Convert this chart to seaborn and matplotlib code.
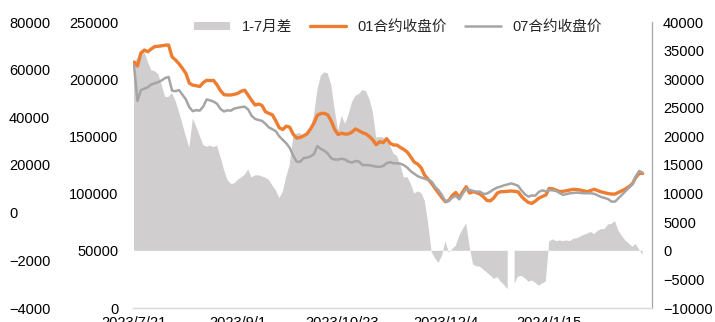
import numpy as np
import pandas as pd
import matplotlib
matplotlib.use("Agg")
import matplotlib.pyplot as plt
import seaborn as sns
from matplotlib.patches import Patch
from matplotlib.lines import Line2D

# ---------------- data ----------------
tick_days = [0, 30, 60, 90, 120]
tick_labels = ["2023/7/21", "2023/9/1", "2023/10/23", "2023/12/4", "2024/1/15"]

price_01 = [
    215000, 211500, 223000, 225500, 224000, 226500, 228500, 228800, 229200, 229700,
    229900, 219500, 216800, 213500, 209500, 205000, 196500, 194800, 194300, 193600,
    197000, 199000, 198800, 198900, 195000, 190000, 186500, 186200, 186200, 186800,
    187600, 189500, 190400, 186000, 181500, 177400, 178300, 177000, 171500, 170200,
    168800, 163500, 157500, 156000, 159000, 158000, 152000, 148600, 149000, 150500,
    152200, 156500, 161500, 168500, 170000, 170200, 168800, 163500, 156000, 151600,
    152800, 152000, 152200, 153800, 156500, 155000, 153300, 152200, 150000, 147000,
    142700, 145400, 144500, 148000, 144000, 142500, 142400, 140300, 138500, 136200,
    132000, 127500, 125800, 122500, 116000, 112500, 109000, 104600, 100500, 96500,
    92900, 94000, 98500, 101000, 96500, 101500, 106000, 100500, 101700, 100800,
    99500, 97200, 94000, 93700, 96300, 100500, 101700, 101700, 102000, 102300,
    102000, 101500, 97500, 94500, 92200, 91500, 93500, 96000, 97500, 98700,
    104500, 104200, 103000, 101800, 102000, 102500, 103200, 103800, 103500, 103100,
    102400, 101700, 102800, 103800, 102600, 101500, 100800, 100000, 99600, 99600,
    101000, 102500, 104000, 106000, 108500, 114000, 117700, 117600,
]

price_07 = [
    212400, 181000, 190500, 191800, 193000, 195400, 196400, 197400, 199000, 201000,
    202000, 190000, 189500, 190500, 186500, 182300, 175500, 172000, 173000, 172500,
    176000, 182300, 181500, 180400, 178500, 174000, 171800, 172800, 172500, 174400,
    175000, 175600, 176000, 173500, 168000, 165300, 164300, 163600, 161000, 157800,
    156300, 154500, 150000, 147000, 144000, 140000, 133300, 128000, 127800, 131000,
    131500, 132500, 134500, 141600, 139000, 137500, 135000, 130800, 129800, 129800,
    130500, 129800, 127900, 127200, 128500, 128000, 125000, 125000, 124800, 124200,
    123500, 123400, 124100, 126500, 127500, 126500, 126500, 126200, 124800, 122700,
    119500, 117300, 115200, 114000, 113000, 112000, 110500, 106000, 103000, 98500,
    93000, 94000, 96500, 98000, 95000, 100000, 104300, 103200, 102300, 101700,
    101700, 99700, 100000, 101800, 103800, 105300, 106200, 107300, 108000, 108900,
    108000, 106800, 102700, 99400, 97300, 98400, 98200, 101500, 102800, 102000,
    103100, 102800, 102300, 100500, 98900, 99600, 100300, 100600, 100900, 100600,
    100300, 100300, 100300, 99800, 98500, 97000, 96200, 95200, 93000, 93000,
    95900, 99000, 102000, 105000, 108000, 115000, 119800, 118300,
]

spread_1_7 = [
    32900, 33700, 34800, 34800, 33000, 31600, 31400, 30900, 29000, 26900,
    26900, 27600, 26200, 24300, 22200, 20000, 18000, 23100, 21700, 20100,
    18500, 18200, 18400, 18100, 18400, 16400, 14200, 12400, 11700, 11800,
    12400, 12800, 13300, 14200, 12800, 13200, 13200, 13000, 12800, 12400,
    11400, 10600, 9200, 10300, 12900, 15000, 19800, 20500, 20600, 19900,
    20600, 21500, 23600, 28100, 30600, 31200, 31000, 29000, 24600, 21000,
    23600, 22200, 23800, 26000, 27100, 27400, 28100, 27900, 26600, 24300,
    19800, 19900, 19800, 19000, 18400, 17000, 16600, 15000, 12800, 12900,
    11700, 10000, 10400, 10100, 8800, 4900, -200, -1300, -2100, -900,
    1700, -300, 300, 900, 2600, 3800, 4800, 700, -2400, -2700,
    -2800, -3300, -3800, -4300, -4900, -4600, -5400, -6000, -6700, np.nan,
    -5700, -4500, -4400, -4800, -5400, -5200, -5600, -6100, -5700, -5400,
    1600, 2000, 1700, 1800, 1700, 1800, 1700, 2100, 2200, 2500,
    2800, 3000, 3300, 2900, 3500, 3800, 3800, 4600, 4700, 5200,
    3500, 2600, 1800, 1300, 700, 1200, 200, -700,
]

left_outer_ticks = [80000, 60000, 40000, 20000, 0, -20000, -40000]
left_outer_labels = ["80000", "60000", "40000", "20000", "0", "\u22122000", "\u22124000"]
left_ticks = [0, 50000, 100000, 150000, 200000, 250000]
right_ticks = [-10000, -5000, 0, 5000, 10000, 15000, 20000, 25000, 30000, 35000, 40000]

series_names = ["1-7月差", "01合约收盘价", "07合约收盘价"]

# ---------------- style ----------------
sns.set_theme(style="white")
plt.rcParams["font.family"] = ["Liberation Sans", "Noto Sans CJK SC", "DejaVu Sans"]
plt.rcParams["axes.unicode_minus"] = True

ORANGE = "#ED7D31"
GRAY = "#A5A5A5"
AREA = "#D0CECE"
FS = 10.5

df = pd.DataFrame({
    "day": np.arange(len(price_01)),
    "p01": price_01,
    "p07": price_07,
    "spread": spread_1_7,
})

fig = plt.figure(figsize=(7.15, 3.22), dpi=100)
L, R, T, B = 132.5, 652.0, 22.0, 308.0
ax = fig.add_axes([L / 715, (322 - B) / 322, (R - L) / 715, (B - T) / 322])

# area (right axis)
ax.fill_between(df["day"], 0, df["spread"], color=AREA, linewidth=0)

ax_l = ax.twinx()
ax_f = ax.twinx()
ax.yaxis.tick_right()

ax.set_ylim(-10000, 40000)
ax.set_yticks(right_ticks)
ax.set_yticklabels([f"{v}".replace("-", "\u2212") for v in right_ticks])
ax.tick_params(axis="y", length=0, pad=7.9, labelsize=FS, colors="#000000")

# price lines (middle-left axis)
sns.lineplot(data=df, x="day", y="p01", ax=ax_l, color=ORANGE, linewidth=2.4, legend=False)
sns.lineplot(data=df, x="day", y="p07", ax=ax_l, color=GRAY, linewidth=1.8, legend=False)
ax_l.yaxis.tick_left()
ax_l.set_ylim(0, 250000)
ax_l.set_yticks(left_ticks)
ax_l.set_yticklabels([str(v) for v in left_ticks])
ax_l.tick_params(axis="y", length=0, pad=10.2, labelsize=FS, colors="#000000")
ax_l.set_ylabel("")
ax_l.set_xlabel("")

# outer-left axis (labels only)
ax_f.yaxis.tick_left()
ax_f.set_ylim(-40000, 80000)
ax_f.set_yticks(left_outer_ticks)
ax_f.set_yticklabels(left_outer_labels)
ax_f.tick_params(axis="y", length=0, pad=88.9, labelsize=FS, colors="#000000")
for t in ax_f.get_yticklabels():
    t.set_horizontalalignment("left")

ax.set_xlim(-0.43, 149.7)
ax.set_xticks(tick_days)
ax.set_xticklabels(tick_labels)
ax.tick_params(axis="x", length=0, pad=6, labelsize=FS, colors="#000000")
ax.set_xlabel("")
ax.set_ylabel("")

for a in (ax, ax_l, ax_f):
    for s in a.spines.values():
        s.set_visible(False)
ax.spines["bottom"].set_visible(True)
ax.spines["bottom"].set_color("#D9D9D9")
ax.spines["bottom"].set_linewidth(1.0)
ax.spines["right"].set_visible(True)
ax.spines["right"].set_color("#A6A6A6")
ax.spines["right"].set_linewidth(0.9)
ax.grid(False); ax_l.grid(False); ax_f.grid(False)

handles = [
    Patch(facecolor=AREA, edgecolor="none"),
    Line2D([], [], color=ORANGE, linewidth=2.4),
    Line2D([], [], color=GRAY, linewidth=1.8),
]
leg = ax_f.legend(handles, series_names, loc="center", bbox_to_anchor=(0.511, 0.982),
                  ncol=3, frameon=False, fontsize=10.5, handlelength=2.5,
                  handleheight=0.55, handletextpad=0.8, columnspacing=1.2,
                  borderaxespad=0, borderpad=0)

fig.savefig("out.png", dpi=100)
